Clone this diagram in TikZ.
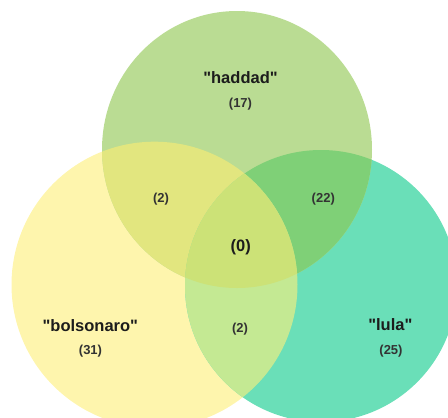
\documentclass[tikz,border=0pt]{standalone}
\usepackage{fontspec}
\setmainfont{Liberation Sans}[Ligatures=TeXOff]
\definecolor{cG}{HTML}{BADC93}
\definecolor{cY}{HTML}{FEF5AD}
\definecolor{cT}{HTML}{6ADFB8}
\definecolor{cYG}{HTML}{E2E67F}
\definecolor{cGT}{HTML}{7FD077}
\definecolor{cYT}{HTML}{C4E993}
\definecolor{cYGT}{HTML}{CCE277}
\definecolor{lab}{HTML}{1C1C1C}
\definecolor{num}{HTML}{333333}
\begin{document}
\begin{tikzpicture}[x=1pt,y=-1pt,
  setlabel/.style={text=lab,font=\fontsize{16.5}{18}\selectfont\bfseries,inner sep=0pt,anchor=base},
  countlabel/.style={text=num,font=\fontsize{13}{15}\selectfont\bfseries,inner sep=0pt},
  bigcount/.style={text=lab,font=\fontsize{16.5}{18}\selectfont\bfseries,inner sep=0pt}]
\useasboundingbox (0,0) rectangle (448,418);
\def\pathG{(237,149.5) ellipse [x radius=135, y radius=138.5]}
\def\pathY{(154.5,284.7) circle [radius=143]}
\def\pathT{(321,286) circle [radius=136]}
\begin{scope}
\clip (0,0) rectangle (448,418);
\fill[cY] \pathY;
\fill[cT] \pathT;
\fill[cG] \pathG;
\begin{scope}\clip \pathY; \fill[cYG] \pathG; \end{scope}
\begin{scope}\clip \pathT; \fill[cGT] \pathG; \end{scope}
\begin{scope}\clip \pathY; \fill[cYT] \pathT; \end{scope}
\begin{scope}\clip \pathY; \clip \pathT; \fill[cYGT] \pathG; \end{scope}
\end{scope}
\node[setlabel] (hd) at (240.5,83) {"haddad"};
\node[countlabel] (hdn) at (240.5,104) {(17)};
\node[setlabel] (bo) at (90.3,331.5) {"bolsonaro"};
\node[countlabel] (bon) at (90.5,351.5) {(31)};
\node[setlabel] (lu) at (390.3,330.5) {"lula"};
\node[countlabel] (lun) at (391,351.5) {(25)};
\node[countlabel] (yg) at (161,199) {(2)};
\node[countlabel] (gt) at (323.3,199) {(22)};
\node[countlabel] (yt) at (240,329) {(2)};
\node[bigcount] (ygt) at (240.7,247.5) {(0)};
\end{tikzpicture}
\end{document}
